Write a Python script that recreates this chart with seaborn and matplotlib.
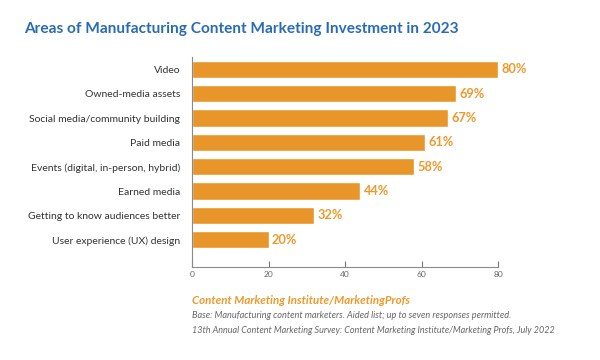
import matplotlib
matplotlib.use("Agg")
import matplotlib.pyplot as plt
import seaborn as sns
import pandas as pd

categories = ["Video", "Owned-media assets", "Social media/community building",
              "Paid media", "Events (digital, in-person, hybrid)", "Earned media",
              "Getting to know audiences better", "User experience (UX) design"]
values = [80, 69, 67, 61, 58, 44, 32, 20]
x_ticks = [0, 20, 40, 60, 80]

title = "Areas of Manufacturing Content Marketing Investment in 2023"
source = "Content Marketing Institute/MarketingProfs"
notes = ["Base: Manufacturing content marketers. Aided list; up to seven responses permitted.",
         "13th Annual Content Marketing Survey: Content Marketing Institute/Marketing Profs, July 2022"]

sns.set_theme(style="white")
plt.rcParams['font.family'] = ['Lato', 'DejaVu Sans']

BAR = "#E8962A"
LBL = "#F0982A"
BLUE = "#2A6CB3"

df = pd.DataFrame({"cat": categories, "val": values})

fig = plt.figure(figsize=(6, 3.6), dpi=100)
ax = fig.add_axes([192/600, 1-267/360, (498-192)/600, (267-57)/360])

sns.barplot(data=df, x="val", y="cat", orient="h", color=BAR, saturation=1,
            width=0.71, ax=ax)

ax.set_xlim(0, 80)
ax.set_ylim(8.12, -0.51)
ax.set_xlabel("")
ax.set_ylabel("")
ax.set_xticks(x_ticks)
ax.set_xticklabels([str(t) for t in x_ticks], fontsize=6, color="#666666")
ax.tick_params(axis="x", direction="in", length=4, width=0.8, color="#777777", pad=3,
               bottom=True)
ax.tick_params(axis="y", length=0, pad=8.6, labelsize=7.45, labelcolor="#333333")

for s in ["top", "right"]:
    ax.spines[s].set_visible(False)
for s in ["left", "bottom"]:
    ax.spines[s].set_color("#8a8a8a")
    ax.spines[s].set_linewidth(0.8)

for i, v in enumerate(values):
    ax.text(v + 0.9, i, f"{v}%", va="center", ha="left", fontsize=9.2,
            fontweight="bold", color=LBL, clip_on=False)

fig.text(24/600, 1-29/360, title, fontsize=11.1, fontweight="bold", color=BLUE,
         ha="left", va="center")
fig.text(192/600, 1-301/360, source, fontsize=8.3, fontweight="bold", style="italic",
         color=LBL, ha="left", va="center")
fig.text(192/600, 1-315.5/360, notes[0], fontsize=6.55, style="italic",
         color="#666666", ha="left", va="center")
fig.text(192/600, 1-330.5/360, notes[1], fontsize=6.5, style="italic",
         color="#666666", ha="left", va="center")

fig.savefig("out.png", dpi=100, facecolor="white")
